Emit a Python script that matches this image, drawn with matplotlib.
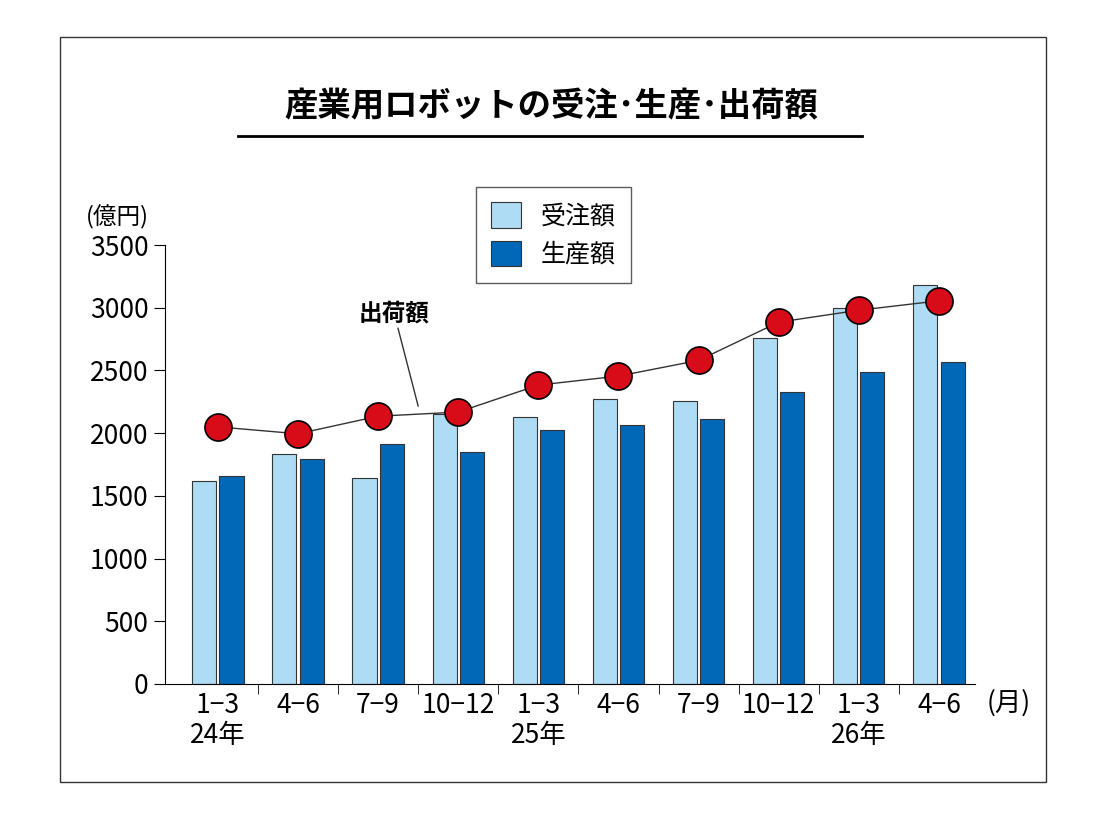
import matplotlib
matplotlib.use('Agg')
import matplotlib.pyplot as plt
import numpy as np

plt.rcParams['font.family'] = ['Noto Sans CJK JP', 'DejaVu Sans']

quarters = ['1−3\n24年', '4−6', '7−9', '10−12', '1−3\n25年', '4−6', '7−9', '10−12', '1−3\n26年', '4−6']
orders = [1615, 1835, 1645, 2150, 2130, 2272, 2258, 2760, 2995, 3180]
production = [1660, 1795, 1912, 1850, 2025, 2065, 2112, 2328, 2485, 2565]
shipments = [2050, 1995, 2135, 2168, 2383, 2455, 2580, 2885, 2980, 3055]

fig = plt.figure(figsize=(11.2, 8.33), dpi=100)
# outer frame
fig.patches.append(plt.Rectangle((60/1120, 1-782/833), 986/1120, 745/833, transform=fig.transFigure,
                                 fill=False, edgecolor='#333333', linewidth=1))

ax = fig.add_axes([165/1120, 1-684/833, 810/1120, 439/833])
x = np.arange(len(quarters))
w = 0.3
ax.bar(x - 0.17, orders, w, color='#aedcf5', edgecolor='#333333', linewidth=0.8, label='受注額')
ax.bar(x + 0.17, production, w, color='#0068b6', edgecolor='#333333', linewidth=0.8, label='生産額')
ax.plot(x, shipments, color='#333333', linewidth=1, zorder=3)
ax.scatter(x, shipments, s=380, color='#d80c18', edgecolor='black', linewidth=1.2, zorder=4)

ax.set_xlim(-0.66, 9.45)
ax.set_ylim(0, 3500)
ax.set_yticks(range(0, 3501, 500))
ax.set_xticks(x)
ax.set_xticklabels(quarters, fontsize=19, linespacing=1.15)
ax.set_xticks(np.arange(0.5, 9.5, 1), minor=True)
ax.tick_params(axis='x', which='major', length=0, pad=6)
ax.tick_params(axis='x', which='minor', length=7, direction='out')
ax.tick_params(axis='y', labelsize=19, length=8, pad=4)
for s in ['top', 'right']:
    ax.spines[s].set_visible(False)

ax.text(-0.02, 1.035, '(億円)', transform=ax.transAxes, fontsize=17, ha='right', va='bottom')
ax.text(9.6, -40, '(月)', fontsize=19, ha='left', va='top')

ax.annotate('出荷額', xy=(2.5, 2215), xytext=(2.2, 2860), fontsize=17, fontweight='bold',
            ha='center', va='bottom', arrowprops=dict(arrowstyle='-', color='#333333', lw=1,
                                                       shrinkA=0, shrinkB=0))

leg = ax.legend(loc='upper left', bbox_to_anchor=(311/810, 1 + 58/439), fontsize=18, frameon=True,
                fancybox=False, edgecolor='#333333', handlelength=1.2, handleheight=1.2,
                borderpad=0.6, labelspacing=0.45, borderaxespad=0)
leg.get_frame().set_linewidth(1)

fig.text(0.492, 1-107/833, '産業用ロボットの受注･生産･出荷額', fontsize=24, fontweight='bold',
         ha='center', va='center')
fig.add_artist(plt.Line2D([238/1120, 862/1120], [1-136/833, 1-136/833], color='black', linewidth=2))

fig.savefig('out.png', dpi=100)
